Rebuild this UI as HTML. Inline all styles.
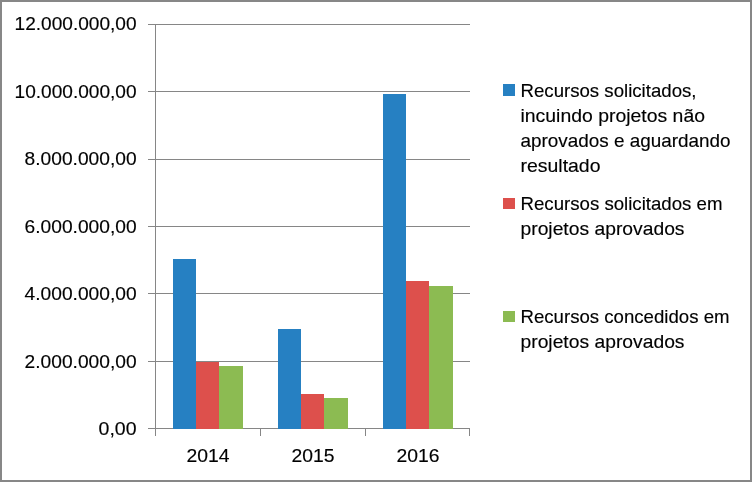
<!DOCTYPE html>
<html><head><meta charset="utf-8">
<style>
html,body{margin:0;padding:0;background:#fff;}
body{width:752px;height:482px;overflow:hidden;}
svg{display:block;}
text{font-family:"Liberation Sans",sans-serif;fill:#000;}
.t{filter:grayscale(1);}
.t text{stroke:#000;stroke-width:0.15px;}
</style></head><body>
<svg width="752" height="482" viewBox="0 0 752 482">
<rect x="0" y="0" width="752" height="482" fill="#fff"/>
<rect x="1" y="1" width="750" height="480" fill="none" stroke="#878787" stroke-width="2"/>
<g stroke="#868686" stroke-width="1" shape-rendering="crispEdges">
<line x1="148" y1="24.5" x2="470" y2="24.5"/>
<line x1="148" y1="91.5" x2="470" y2="91.5"/>
<line x1="148" y1="159.5" x2="470" y2="159.5"/>
<line x1="148" y1="226.5" x2="470" y2="226.5"/>
<line x1="148" y1="293.5" x2="470" y2="293.5"/>
<line x1="148" y1="361.5" x2="470" y2="361.5"/>
<line x1="148" y1="428.5" x2="470" y2="428.5"/>
</g>
<g shape-rendering="crispEdges">
<rect x="173" y="259" width="23" height="170" fill="#2680C2"/>
<rect x="196" y="362" width="23" height="67" fill="#DD504C"/>
<rect x="219" y="366" width="24" height="63" fill="#8CBB52"/>
<rect x="278" y="329" width="23" height="100" fill="#2680C2"/>
<rect x="301" y="394" width="23" height="35" fill="#DD504C"/>
<rect x="324" y="398" width="24" height="31" fill="#8CBB52"/>
<rect x="383" y="94" width="23" height="335" fill="#2680C2"/>
<rect x="406" y="281" width="23" height="148" fill="#DD504C"/>
<rect x="429" y="286" width="24" height="143" fill="#8CBB52"/>
</g>
<g stroke="#868686" stroke-width="1" shape-rendering="crispEdges">
<line x1="155.5" y1="24" x2="155.5" y2="436"/>
<line x1="260.5" y1="428" x2="260.5" y2="436"/>
<line x1="365.5" y1="428" x2="365.5" y2="436"/>
<line x1="469.5" y1="428" x2="469.5" y2="436"/>
</g>
<g class="t" font-size="18.5" text-anchor="end">
<text x="136.6" y="30" textLength="122" lengthAdjust="spacingAndGlyphs">12.000.000,00</text>
<text x="136.6" y="98" textLength="122" lengthAdjust="spacingAndGlyphs">10.000.000,00</text>
<text x="136.6" y="165" textLength="112" lengthAdjust="spacingAndGlyphs">8.000.000,00</text>
<text x="136.6" y="233" textLength="112" lengthAdjust="spacingAndGlyphs">6.000.000,00</text>
<text x="136.6" y="300" textLength="112" lengthAdjust="spacingAndGlyphs">4.000.000,00</text>
<text x="136.6" y="368" textLength="112" lengthAdjust="spacingAndGlyphs">2.000.000,00</text>
<text x="136.6" y="435" textLength="38" lengthAdjust="spacingAndGlyphs">0,00</text>
</g>
<g class="t" font-size="18.5" text-anchor="middle">
<text x="208" y="462" textLength="43" lengthAdjust="spacingAndGlyphs">2014</text>
<text x="313" y="462" textLength="43" lengthAdjust="spacingAndGlyphs">2015</text>
<text x="418" y="462" textLength="43" lengthAdjust="spacingAndGlyphs">2016</text>
</g>
<rect x="503" y="84" width="12" height="12" fill="#2680C2"/>
<rect x="503" y="198" width="12" height="11" fill="#DD504C"/>
<rect x="503" y="311" width="12" height="11" fill="#8CBB52"/>
<g class="t" font-size="18.5">
<text x="520.5" y="96.5" textLength="176" lengthAdjust="spacingAndGlyphs">Recursos solicitados,</text>
<text x="520.5" y="121.5" textLength="184.5" lengthAdjust="spacingAndGlyphs">incuindo projetos não</text>
<text x="520.5" y="146.5" textLength="210" lengthAdjust="spacingAndGlyphs">aprovados e aguardando</text>
<text x="520.5" y="171.5" textLength="80" lengthAdjust="spacingAndGlyphs">resultado</text>
<text x="520.5" y="209.5" textLength="202" lengthAdjust="spacingAndGlyphs">Recursos solicitados em</text>
<text x="520.5" y="234.5" textLength="164" lengthAdjust="spacingAndGlyphs">projetos aprovados</text>
<text x="520.5" y="322.8" textLength="209" lengthAdjust="spacingAndGlyphs">Recursos concedidos em</text>
<text x="520.5" y="348" textLength="164" lengthAdjust="spacingAndGlyphs">projetos aprovados</text>
</g>
</svg>
</body></html>
